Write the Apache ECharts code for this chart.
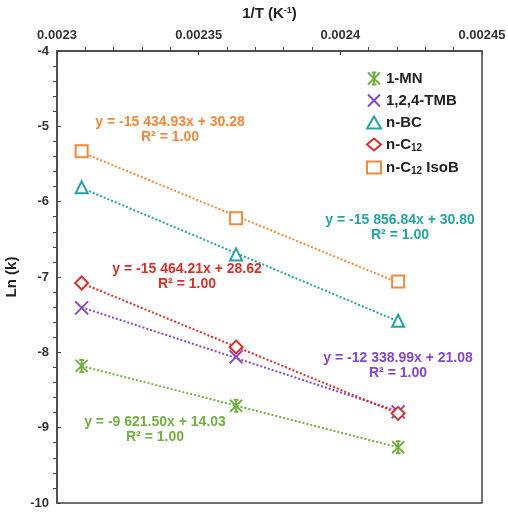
<!DOCTYPE html>
<html>
<head>
<meta charset="utf-8">
<script src="https://cdn.jsdelivr.net/npm/echarts@6/dist/echarts.min.js"></script>
<style>
  html, body { margin: 0; padding: 0; background: #fff; }
  #chart { width: 508px; height: 514px; }
</style>
</head>
<body>
<div id="chart"></div>
<script>
// 1/T values (K^-1) for the three temperatures
const invT = [0.0023087, 0.0023632, 0.0024204];

// Ln(k)
const mn = [-8.18, -8.71, -9.26];
const tmb = [-7.41, -8.06, -8.79];
const nc12 = [-7.08, -7.93, -8.81];
const nbc = [-5.81, -6.70, -7.58];
const isob = [-5.33, -6.22, -7.06];

const names = ["1-MN", "1,2,4-TMB", "n-BC", "n-C12", "n-C12 IsoB"];
const colors = ["#73B044", "#8647C6", "#25A3A3", "#D5302C", "#F5873A"];

// trend line equations as printed on the chart
const eqText = [
  ["y = -9 621.50x + 14.03", "R² = 1.00"],
  ["y = -12 338.99x + 21.08", "R² = 1.00"],
  ["y = -15 856.84x + 30.80", "R² = 1.00"],
  ["y = -15 464.21x + 28.62", "R² = 1.00"],
  ["y = -15 434.93x + 30.28", "R² = 1.00"],
];

const allY = [mn, tmb, nbc, nc12, isob];

const symbols = [
  "path://M0,0L10,10M10,0L0,10M5,0L5,10M3,0L7,0M3,10L7,10", // star marker
  "path://M0,0L10,10M10,0L0,10",
  "triangle",
  "diamond",
  "rect",
];
const sizes = [12, 13, 12, 13, 12];

// least squares fit from the points, drawn between first and last x
function fit(xs, ys) {
  const n = xs.length;
  const mx = xs.reduce((a, b) => a + b, 0) / n;
  const my = ys.reduce((a, b) => a + b, 0) / n;
  let sxy = 0, sxx = 0;
  for (let i = 0; i < n; i++) {
    sxy += (xs[i] - mx) * (ys[i] - my);
    sxx += (xs[i] - mx) * (xs[i] - mx);
  }
  const b = sxy / sxx;
  const a = my - b * mx;
  return [[xs[0], a + b * xs[0]], [xs[n - 1], a + b * xs[n - 1]]];
}

const series = [];
allY.forEach((ys, i) => {
  series.push({
    name: names[i] + "_fit",
    type: "line",
    data: fit(invT, ys),
    symbol: "none",
    silent: true,
    z: 1,
    lineStyle: { color: colors[i], width: 2, type: [2, 2] },
  });
});
allY.forEach((ys, i) => {
  series.push({
    name: names[i],
    type: "scatter",
    data: ys.map((y, j) => [invT[j], y]),
    symbol: symbols[i],
    symbolSize: sizes[i],
    z: 3,
    itemStyle: {
      color: i < 2 ? "transparent" : "#fff",
      borderColor: colors[i],
      borderWidth: 2,
      opacity: 1,
    },
  });
});

// equation labels [cx, cy]
const eqPos = [[155, 430], [398, 366], [400, 228], [187, 277], [170, 130]];
const graphics = [];
eqText.forEach((t, i) => {
  graphics.push({
    type: "text",
    x: eqPos[i][0],
    y: eqPos[i][1],
    style: {
      text: t[0] + "\n" + t[1],
      fill: colors[i],
      font: "bold 14px 'Liberation Sans', Arial, sans-serif",
      align: "center",
      verticalAlign: "middle",
      lineHeight: 15,
    },
  });
});

const chart = echarts.init(document.getElementById("chart"));
chart.setOption({
  backgroundColor: "#fff",
  animation: false,
  textStyle: { fontFamily: "'Liberation Sans', Arial, sans-serif" },
  grid: {
    left: 57, right: 26, top: 51, bottom: 11,
    outerBoundsMode: "none",
    containLabel: false,
    show: true,
    borderColor: "#444",
    borderWidth: 1.5,
  },
  legend: {
    data: names,
    orient: "vertical",
    left: 361,
    top: 66,
    itemGap: 7,
    itemWidth: 14,
    itemHeight: 12,
    textStyle: {
      color: "#222",
      fontWeight: "bold",
      fontSize: 15,
      rich: {
        n: { fontWeight: "bold", fontSize: 15, color: "#222" },
        s: { fontWeight: "bold", fontSize: 10, color: "#222", verticalAlign: "bottom", padding: [7, 0, 0, 0] },
      },
    },
    formatter: (name) => {
      if (name === "n-C12") return "{n|n-C}{s|12}";
      if (name === "n-C12 IsoB") return "{n|n-C}{s|12}{n| IsoB}";
      return name;
    },
  },
  xAxis: {
    type: "value",
    position: "top",
    min: 0.0023,
    max: 0.00245,
    interval: 0.00005,
    name: "{a|1/T (K}{b|-1}{a|)}",
    nameLocation: "middle",
    nameGap: 29,
    nameTextStyle: {
      rich: {
        a: { fontWeight: "bold", fontSize: 15, color: "#222" },
        b: { fontWeight: "bold", fontSize: 9, color: "#222", verticalAlign: "top", padding: [0, 0, 7, 0] },
      },
    },
    axisLine: { show: true, lineStyle: { color: "#444", width: 1.5 } },
    axisTick: { show: true, inside: true, length: 4, lineStyle: { color: "#444" } },
    minorTick: { show: true, splitNumber: 5, length: -4, lineStyle: { color: "#444" } },
    splitLine: { show: false },
    axisLabel: {
      color: "#333",
      fontWeight: "bold",
      fontSize: 13,
      margin: 9,
      formatter: (v) => String(+v.toFixed(6)),
    },
  },
  yAxis: {
    type: "value",
    min: -10,
    max: -4,
    interval: 1,
    name: "Ln (k)",
    nameLocation: "middle",
    nameGap: 22,
    nameTextStyle: { fontWeight: "bold", fontSize: 15, color: "#222" },
    axisLine: { show: true, lineStyle: { color: "#444", width: 1.5 } },
    axisTick: { show: true, inside: true, length: 4, lineStyle: { color: "#444" } },
    minorTick: { show: true, splitNumber: 5, length: -4, lineStyle: { color: "#444" } },
    splitLine: { show: false },
    axisLabel: { color: "#333", fontWeight: "bold", fontSize: 13, margin: 8 },
  },
  graphic: graphics,
  series: series,
});
</script>
</body>
</html>
